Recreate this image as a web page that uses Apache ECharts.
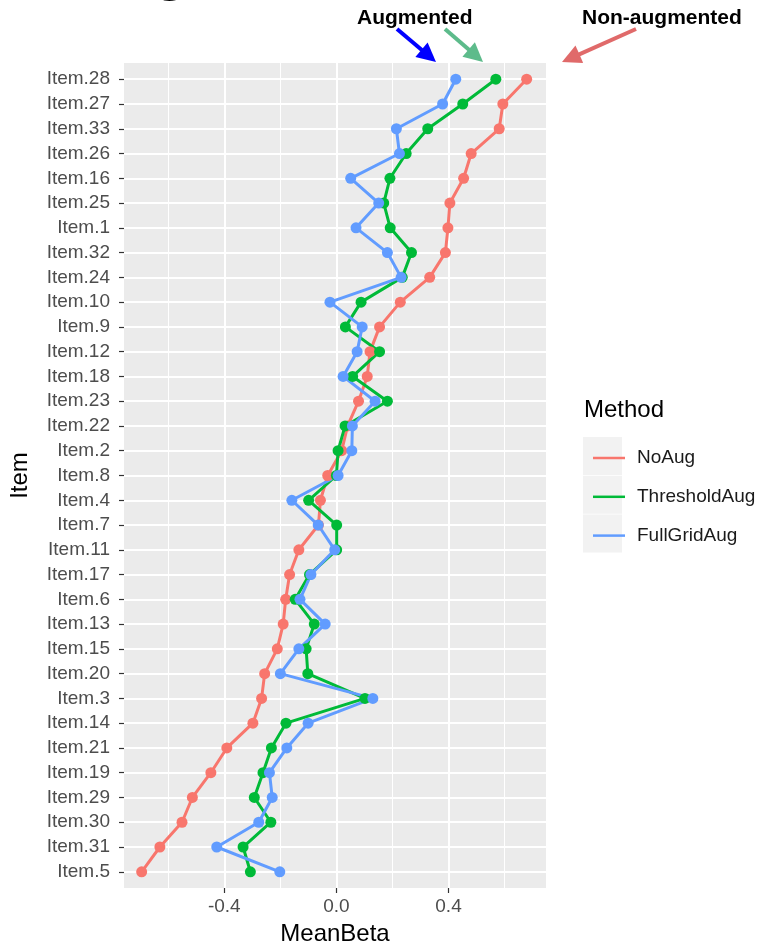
<!DOCTYPE html>
<html>
<head>
<meta charset="utf-8">
<script src="https://cdn.jsdelivr.net/npm/echarts@6/dist/echarts.min.js"></script>
<style>
  html, body { margin: 0; padding: 0; background: #ffffff; }
  #chart { width: 764px; height: 951px; }
</style>
</head>
<body>
<div id="chart"></div>
<script>
// Items, top to bottom
const items = ['Item.28','Item.27','Item.33','Item.26','Item.16','Item.25','Item.1','Item.32','Item.24','Item.10',
  'Item.9','Item.12','Item.18','Item.23','Item.22','Item.2','Item.8','Item.4','Item.7','Item.11','Item.17',
  'Item.6','Item.13','Item.15','Item.20','Item.3','Item.14','Item.21','Item.19','Item.29','Item.30','Item.31','Item.5'];

// Mean beta per item for each method
const noAug = [0.679,0.594,0.581,0.481,0.454,0.405,0.398,0.389,0.333,0.228,0.154,0.120,0.110,0.079,0.040,0.019,
  -0.031,-0.057,-0.064,-0.134,-0.167,-0.181,-0.190,-0.211,-0.256,-0.267,-0.298,-0.391,-0.448,-0.514,-0.551,-0.630,-0.695];
const thresholdAug = [0.569,0.451,0.326,0.249,0.191,0.169,0.192,0.268,0.235,0.088,0.032,0.154,0.058,0.182,0.031,0.006,
  0.000,-0.099,0.001,0.001,-0.096,-0.147,-0.079,-0.108,-0.102,0.102,-0.180,-0.232,-0.262,-0.293,-0.234,-0.333,-0.307];
const fullGridAug = [0.426,0.379,0.214,0.225,0.051,0.151,0.070,0.182,0.231,-0.023,0.092,0.074,0.024,0.138,0.057,0.055,
  0.006,-0.159,-0.065,-0.006,-0.091,-0.130,-0.040,-0.134,-0.200,0.130,-0.101,-0.177,-0.239,-0.229,-0.277,-0.427,-0.202];

const methods = ['NoAug', 'ThresholdAug', 'FullGridAug'];
const methodValues = [noAug, thresholdAug, fullGridAug];
const methodColors = ['#F8766D', '#00BA38', '#619CFF'];

// Axis ticks
const xMajorTicks = [-0.4, 0, 0.4];
const xMinorTicks = [-0.6, -0.2, 0.2, 0.6];
const xLimits = [-0.758, 0.748];

const FONT = 'Liberation Sans, Arial, Helvetica, sans-serif';
const itemIndex = items.map((_, i) => i);

function toPoints(values) {
  return values.map((v, i) => [v, i]);
}

function arrow(x1, y1, x2, y2, color) {
  const dx = x2 - x1, dy = y2 - y1;
  const len = Math.sqrt(dx * dx + dy * dy);
  const ux = dx / len, uy = dy / len;
  const headLen = 19, headHalf = 9.5;
  const bx = x2 - ux * headLen, by = y2 - uy * headLen;
  return [
    { type: 'line', shape: { x1: x1, y1: y1, x2: bx + ux * 2, y2: by + uy * 2 },
      style: { stroke: color, lineWidth: 4 } },
    { type: 'polygon', shape: { points: [[x2, y2], [bx - uy * headHalf, by + ux * headHalf], [bx + uy * headHalf, by - ux * headHalf]] },
      style: { fill: color } }
  ];
}

const series = [];
methods.forEach((name, k) => {
  series.push({
    name: name, type: 'line', data: toPoints(methodValues[k]),
    showSymbol: false, symbol: 'none',
    lineStyle: { color: methodColors[k], width: 3 },
    itemStyle: { color: methodColors[k] },
    z: 2, silent: true
  });
});
methods.forEach((name, k) => {
  series.push({
    name: name, type: 'scatter', data: toPoints(methodValues[k]),
    symbol: 'circle', symbolSize: 11,
    itemStyle: { color: methodColors[k], opacity: 1 },
    z: 3, silent: true
  });
});

// Legend key backgrounds
const keyRects = methods.map((_, i) => ({
  type: 'rect', shape: { x: 583, y: 437 + i * 38.8, width: 39, height: 38 },
  style: { fill: '#F2F2F2' }, z: 0
}));

const option = {
  animation: false,
  backgroundColor: '#ffffff',
  grid: {
    left: 124, right: 218, top: 63, bottom: 59,
    show: true, backgroundColor: '#EBEBEB', borderWidth: 0, containLabel: false
  },
  xAxis: [
    {
      type: 'value', position: 'bottom', min: xLimits[0], max: xLimits[1],
      name: 'MeanBeta', nameLocation: 'middle', nameGap: 34,
      nameTextStyle: { fontFamily: FONT, fontSize: 24, color: '#000000' },
      axisLine: { show: false, onZero: false },
      axisTick: { show: true, length: 5, lineStyle: { color: '#333333', width: 1.2 }, customValues: xMajorTicks },
      axisLabel: { show: true, customValues: xMajorTicks, margin: 9, fontFamily: FONT, fontSize: 19, color: '#4D4D4D',
        formatter: v => v.toFixed(1) },
      splitLine: { show: true, lineStyle: { color: '#FFFFFF', width: 2 } }
    },
    {
      type: 'value', position: 'top', min: xLimits[0], max: xLimits[1],
      axisLine: { show: false, onZero: false },
      axisTick: { show: false, customValues: xMinorTicks },
      axisLabel: { show: false, customValues: xMinorTicks },
      splitLine: { show: true, lineStyle: { color: '#FFFFFF', width: 1 } }
    }
  ],
  yAxis: {
    type: 'value', position: 'left', inverse: true, min: -0.655, max: items.length - 1 + 0.655,
    name: 'Item', nameLocation: 'middle', nameGap: 92,
    nameTextStyle: { fontFamily: FONT, fontSize: 24, color: '#000000' },
    axisLine: { show: false, onZero: false },
    axisTick: { show: true, length: 5, lineStyle: { color: '#333333', width: 1.2 }, customValues: itemIndex },
    axisLabel: { show: true, customValues: itemIndex, margin: 14, fontFamily: FONT, fontSize: 19, color: '#4D4D4D',
      formatter: v => items[Math.round(v)] },
    splitLine: { show: true, lineStyle: { color: '#FFFFFF', width: 2 } }
  },
  legend: {
    data: methods, orient: 'vertical', left: 588, top: 443,
    icon: 'rect', itemWidth: 32, itemHeight: 2.5, itemGap: 18.8,
    selectedMode: false,
    textStyle: { fontFamily: FONT, fontSize: 19, color: '#1A1A1A', lineHeight: 20, padding: [0, 0, 0, 7] }
  },
  graphic: [
    ...keyRects,
    { type: 'text', left: 584, top: 398, z: 5,
      style: { text: 'Method', font: '24px ' + FONT, fill: '#000000' } },
    { type: 'text', x: 357, y: 18, z: 5,
      style: { text: 'Augmented', font: 'bold 21px ' + FONT, fill: '#000000', verticalAlign: 'middle' } },
    { type: 'text', x: 582, y: 18, z: 5,
      style: { text: 'Non-augmented', font: 'bold 21px ' + FONT, fill: '#000000', verticalAlign: 'middle' } },
    { type: 'text', x: 153, y: -26, z: 5,
      style: { text: 'g', font: 'bold 56px ' + FONT, fill: '#000000', verticalAlign: 'middle' } },
    ...arrow(397, 29, 436, 62, '#0000FF'),
    ...arrow(445, 29, 483, 62, '#5DBB8B'),
    ...arrow(636, 29, 562, 62, '#E06A6A')
  ],
  series: series
};

const chart = echarts.init(document.getElementById('chart'), null, { renderer: 'canvas' });
chart.setOption(option);
</script>
</body>
</html>
